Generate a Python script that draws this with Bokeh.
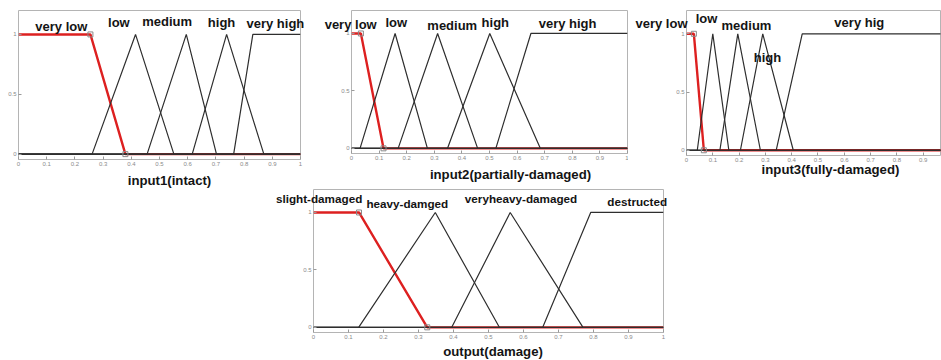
from bokeh.plotting import figure
from bokeh.layouts import row, column, Spacer
from bokeh.models import Range1d, FixedTicker, CustomJSTickFormatter
from bokeh.core.properties import value
from bokeh.embed import file_html
from bokeh.resources import INLINE

# ---------------- data ----------------
X_TICKS = [0, 0.1, 0.2, 0.3, 0.4, 0.5, 0.6, 0.7, 0.8, 0.9, 1]
Y_TICKS = [0, 0.5, 1]

in1_title = "input1(intact)"
in1_names = ["very low", "low", "medium", "high", "very high"]
in1_params = [[0, 0, 0.255, 0.379], [0.261, 0.415, 0.551], [0.456, 0.595, 0.702],
              [0.616, 0.738, 0.87], [0.763, 0.831, 1, 1]]

in2_title = "input2(partially-damaged)"
in2_names = ["very low", "low", "medium", "high", "very high"]
in2_params = [[0, 0, 0.034, 0.116], [0.031, 0.158, 0.275], [0.169, 0.312, 0.457],
              [0.348, 0.501, 0.684], [0.523, 0.65, 1, 1]]

in3_title = "input3(fully-damaged)"
in3_names = ["very low", "low", "medium", "high", "very hig"]
in3_params = [[0, 0, 0.028, 0.066], [0.041, 0.1, 0.161], [0.127, 0.195, 0.281],
              [0.205, 0.29, 0.406], [0.341, 0.44, 1, 1]]

out_title = "output(damage)"
out_names = ["slight-damaged", "heavy-damged", "veryheavy-damaged", "destructed"]
out_params = [[0, 0, 0.13, 0.325], [0.129, 0.348, 0.531], [0.395, 0.562, 0.77],
              [0.655, 0.792, 1, 1]]

# ---------------- layout (label anchors, in axis units) ----------------
in1_lab_x = [0.152, 0.356, 0.527, 0.72, 0.911]
in1_lab_y = [1.069, 1.097, 1.11, 1.097, 1.088]
in2_lab_x = [-0.003, 0.162, 0.365, 0.521, 0.783]
in2_lab_y = [1.079, 1.099, 1.067, 1.093, 1.087]
in3_lab_x = [-0.095, 0.076, 0.228, 0.308, 0.657]
in3_lab_y = [1.086, 1.135, 1.072, 0.80, 1.095]
out_lab_x = [0.016, 0.268, 0.593, 0.925]
out_lab_y = [1.124, 1.08, 1.124, 1.095]

FONT = "Liberation Sans"


def mf_value(x, prm):
    if len(prm) == 3:
        a, b, d = prm
        c = b
    else:
        a, b, c, d = prm
    if x < a or x > d:
        return 0.0
    if b <= x <= c:
        return 1.0
    if x < b:
        return (x - a) / (b - a) if b > a else 1.0
    return (d - x) / (d - c) if d > c else 1.0


def mf_curve(prm):
    xs = sorted(set([0.0, 1.0] + [float(v) for v in prm if 0 <= v <= 1]))
    return xs, [mf_value(x, prm) for x in xs]


def make_panel(params, names, lab_x, lab_y, lab_size, title, title_x, title_y,
               fw, fh, bl, br, bt, bb, x_end):
    p = figure(frame_width=fw, frame_height=fh,
               x_range=Range1d(0, x_end), y_range=Range1d(-0.045, 1.2),
               output_backend="svg", toolbar_location=None,
               min_border_left=bl, min_border_right=br,
               min_border_top=bt, min_border_bottom=bb)
    p.background_fill_color = "white"
    p.border_fill_color = "white"
    p.outline_line_color = "#b4b4b4"
    p.outline_line_width = 1
    p.xgrid.visible = False
    p.ygrid.visible = False
    fmt = CustomJSTickFormatter(code="const s = tick.toFixed(1); return s.endsWith('.0') ? s.slice(0, -2) : s;")
    for ax, ticks in ((p.xaxis[0], X_TICKS), (p.yaxis[0], Y_TICKS)):
        ax.ticker = FixedTicker(ticks=ticks)
        ax.formatter = fmt
        ax.axis_line_color = None
        ax.major_tick_line_color = "#9a9a9a"
        ax.major_tick_in = 3
        ax.major_tick_out = 0
        ax.minor_tick_line_color = None
        ax.major_label_text_font_size = "6px"
        ax.major_label_text_color = "#8a8a8a"
        ax.major_label_text_font = FONT
        ax.major_label_standoff = 2

    # selected MF (red), then the others on top
    xs, ys = mf_curve(params[0])
    p.line(xs, ys, line_color="#dd2020", line_width=2.4)
    for prm in params[1:]:
        xs, ys = mf_curve(prm)
        p.line(xs, ys, line_color="#2e2e2e", line_width=1.2)
    sel = params[0]
    p.scatter([sel[2], sel[3]], [1, 0], marker="square", size=5,
              fill_color=None, line_color="#8a8a8a", line_width=1)

    # MF names (drawn unclipped so they may overhang the frame)
    p.text(x=lab_x, y=lab_y, text=names, text_font=value(FONT),
           text_font_style="bold", text_font_size=lab_size,
           text_color="#141414", text_align="center",
           text_baseline="middle", level="overlay")
    # variable name under the axis
    p.text(x=[title_x], y=[title_y], text=[title], text_font=value(FONT),
           text_font_style="bold", text_font_size="13.2px",
           text_color="#141414", text_align="center",
           text_baseline="middle", level="overlay")
    return p


p1 = make_panel(in1_params, in1_names, in1_lab_x, in1_lab_y, "13px",
                in1_title, 0.5355, -0.2206,
                282, 149, 18, 4, 10, 29, 1.0)
p2 = make_panel(in2_params, in2_names, in2_lab_x, in2_lab_y, "13px",
                in2_title, 0.576, -0.224,
                276, 143, 47, 1, 8, 37, 1.0)
p3 = make_panel(in3_params, in3_names, in3_lab_x, in3_lab_y, "13px",
                in3_title, 0.5475, -0.165,
                254, 145, 58, 1, 8, 35, 0.9658)
p4 = make_panel(out_params, out_names, out_lab_x, out_lab_y, "11.7px",
                out_title, 0.513, -0.2107,
                350, 143, 43, 7, 1, 28, 1.0)

layout = column(row(p1, p2, p3), row(Spacer(width=270, height=10), p4))

open("out.html", "w").write(file_html(layout, INLINE))
